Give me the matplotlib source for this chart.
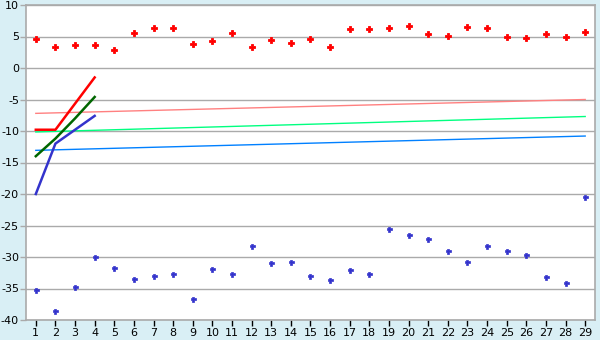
import matplotlib
matplotlib.use("Agg")
import matplotlib.pyplot as plt

plt.rcParams["axes.unicode_minus"] = False

# series values
x_pts = list(range(1, 30))
red_pts = [4.56, 3.28, 3.6, 3.6, 2.8, 5.5, 6.3, 6.3, 3.75, 4.23,
           5.5, 3.28, 4.4, 3.92, 4.55, 3.28, 6.14, 6.14, 6.3, 6.6,
           5.35, 5.03, 6.46, 6.3, 4.87, 4.71, 5.35, 4.87, 5.66]
blue_pts = [-35.3, -38.6, -34.8, -30.05, -31.8, -33.5, -33.07, -32.75, -36.7, -31.95,
            -32.75, -28.3, -31.0, -30.85, -33.07, -33.7, -32.1, -32.75, -25.6, -26.56,
            -27.2, -29.1, -30.85, -28.3, -29.1, -29.7, -33.2, -34.2, -20.5]

x_short = [1, 2, 3, 4]
red_line = [-9.8, -9.8, -5.65, -1.5]
green_line = [-14.0, -11.2, -8.0, -4.6]
blue_line = [-20.0, -12.0, -9.8, -7.6]

x_trend = [1, 29]
pink_trend = [-7.2, -5.0]
green_trend = [-10.15, -7.7]
blue_trend = [-13.07, -10.8]

bg = "#D9EFF5"
fig = plt.figure(figsize=(6, 3.4), dpi=100, facecolor=bg)
ax = fig.add_axes([26 / 600, 1 - 320 / 340, (595 - 26) / 600, (320 - 5) / 340])
ax.set_facecolor("white")

ax.plot(x_trend, pink_trend, color="#FF8080", lw=1.0)
ax.plot(x_trend, green_trend, color="#00FF80", lw=1.0)
ax.plot(x_trend, blue_trend, color="#0080FF", lw=1.0)

ax.plot(x_short, red_line, color="#FF0000", lw=1.8)
ax.plot(x_short, green_line, color="#006600", lw=1.8)
ax.plot(x_short, blue_line, color="#3333CC", lw=1.8)

ax.plot(x_pts, red_pts, ls="none", marker="P", ms=4.2, color="#FF0000",
        mec="#FF0000", mew=0.6)
ax.plot(x_pts, blue_pts, ls="none", marker="P", ms=3.6, color="#3333CC",
        mec="#3333CC", mew=0.5)

ax.set_xlim(0.5, 29.5)
ax.set_ylim(-40, 10)
ax.set_xticks(x_pts)
ax.set_yticks(range(-40, 11, 5))
ax.grid(axis="y", color="#AAAAAA", lw=1.0)
ax.set_axisbelow(True)
for s in ax.spines.values():
    s.set_color("#AAAAAA")
    s.set_linewidth(1.2)
ax.tick_params(axis="both", colors="black", labelsize=8, length=4, width=1, pad=2)
ax.tick_params(axis="y", color="#AAAAAA", pad=1)

fig.savefig("out.png", dpi=100, facecolor=bg)
